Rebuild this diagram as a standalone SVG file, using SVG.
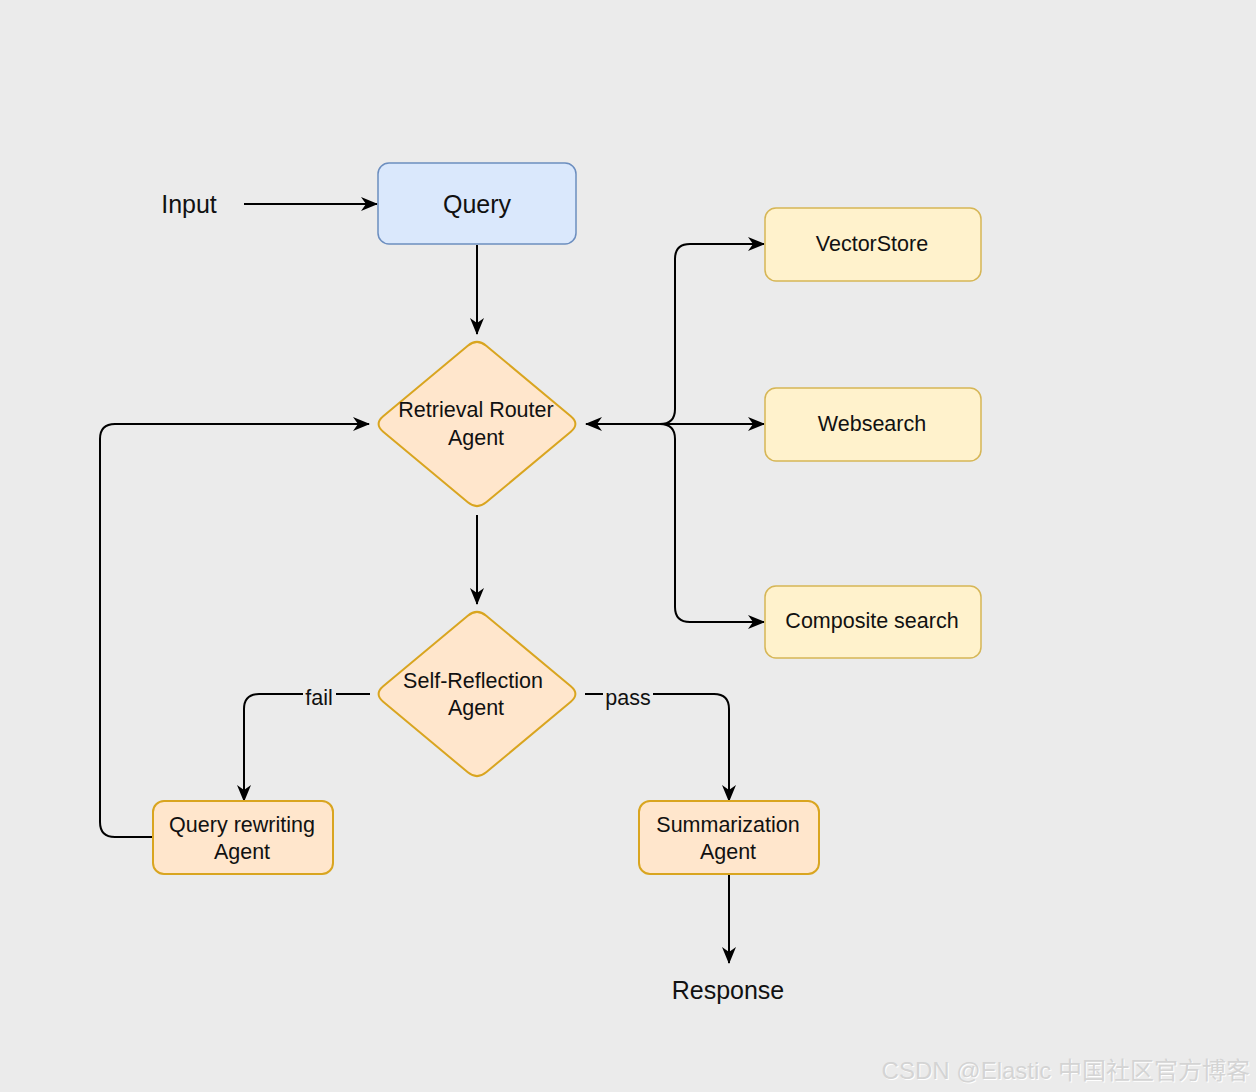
<svg xmlns="http://www.w3.org/2000/svg" width="1256" height="1092" viewBox="0 0 1256 1092">
  <style>
    .lbl { font-family: "Liberation Sans", Arial, sans-serif; fill: #111; text-anchor: middle; }
    .big { font-size: 25px; }
    .mid { font-size: 21.5px; }
    .edge { fill: none; stroke: #000; stroke-width: 2; }
    .blue { fill: #dae8fc; stroke: #6c8ebf; stroke-width: 1.5; }
    .yel { fill: #fff2cc; stroke: #d6b656; stroke-width: 1.5; }
    .org { fill: #ffe6cc; stroke: #d9a520; stroke-width: 2; }
    .wm { font-family: "Liberation Sans", "Noto Sans CJK SC", sans-serif; font-size: 24px; fill: #d4d4d4; text-anchor: end; }
  </style>
  <defs>
    <marker id="arr" viewBox="0 0 17 14" refX="16" refY="7" markerWidth="17" markerHeight="14" markerUnits="userSpaceOnUse" orient="auto-start-reverse">
      <path d="M0,0 L17,7 L0,14 L5,7 Z" fill="#000"/>
    </marker>
    <path id="dia" d="M486.2,345.7 L570.8,416.3 Q580,424 570.8,431.7 L486.2,502.3 Q477,510 467.8,502.3 L383.2,431.7 Q374,424 383.2,416.3 L467.8,345.7 Q477,338 486.2,345.7 Z"/>
  </defs>
  <rect width="1256" height="1092" fill="#ebebeb"/>

  <g id="connectors">
    <path class="edge" d="M244,204 H377" marker-end="url(#arr)"/>
    <path class="edge" d="M477,245 V334" marker-end="url(#arr)"/>
    <path class="edge" d="M586,424 H764" marker-start="url(#arr)" marker-end="url(#arr)"/>
    <path class="edge" d="M660,424 Q675,424 675,409 V259 Q675,244 690,244 H764" marker-end="url(#arr)"/>
    <path class="edge" d="M660,424 Q675,424 675,439 V607 Q675,622 690,622 H764" marker-end="url(#arr)"/>
    <path class="edge" d="M477,515 V604" marker-end="url(#arr)"/>
    <path class="edge" d="M370,694 H259 Q244,694 244,709 V801" marker-end="url(#arr)"/>
    <path class="edge" d="M585,694 H714 Q729,694 729,709 V801" marker-end="url(#arr)"/>
    <path class="edge" d="M153,837 H115 Q100,837 100,822 V439 Q100,424 115,424 H369" marker-end="url(#arr)"/>
    <path class="edge" d="M729,874 V963" marker-end="url(#arr)"/>
    <rect x="303" y="684" width="33" height="26" fill="#ebebeb"/>
    <text class="lbl mid" x="319" y="705">fail</text>
    <rect x="603" y="684" width="50" height="26" fill="#ebebeb"/>
    <text class="lbl mid" x="628" y="705">pass</text>
  </g>

  <g id="input"><text class="lbl big" x="189" y="213">Input</text></g>
  <g id="query">
    <rect class="blue" x="378" y="163" width="198" height="81" rx="11"/>
    <text class="lbl big" x="477" y="213">Query</text>
  </g>
  <g id="router">
    <use href="#dia" class="org"/>
    <text class="lbl mid" x="476" y="417">Retrieval Router</text>
    <text class="lbl mid" x="476" y="445">Agent</text>
  </g>
  <g id="vectorstore">
    <rect class="yel" x="765" y="208" width="216" height="73" rx="11"/>
    <text class="lbl mid" x="872" y="251">VectorStore</text>
  </g>
  <g id="websearch">
    <rect class="yel" x="765" y="388" width="216" height="73" rx="11"/>
    <text class="lbl mid" x="872" y="431">Websearch</text>
  </g>
  <g id="composite">
    <rect class="yel" x="765" y="586" width="216" height="72" rx="11"/>
    <text class="lbl mid" x="872" y="628">Composite search</text>
  </g>
  <g id="selfreflection">
    <use href="#dia" class="org" transform="translate(0,270)"/>
    <text class="lbl mid" x="473" y="688">Self-Reflection</text>
    <text class="lbl mid" x="476" y="715">Agent</text>
  </g>
  <g id="rewriting">
    <rect class="org" x="153" y="801" width="180" height="73" rx="11"/>
    <text class="lbl mid" x="242" y="832">Query rewriting</text>
    <text class="lbl mid" x="242" y="859">Agent</text>
  </g>
  <g id="summarization">
    <rect class="org" x="639" y="801" width="180" height="73" rx="11"/>
    <text class="lbl mid" x="728" y="832">Summarization</text>
    <text class="lbl mid" x="728" y="859">Agent</text>
  </g>
  <g id="response"><text class="lbl big" x="728" y="999">Response</text></g>

  <text class="wm" x="1251" y="1080" style="fill:#ffffff">CSDN @Elastic 中国社区官方博客</text>
  <text class="wm" x="1250" y="1079">CSDN @Elastic 中国社区官方博客</text>
</svg>
